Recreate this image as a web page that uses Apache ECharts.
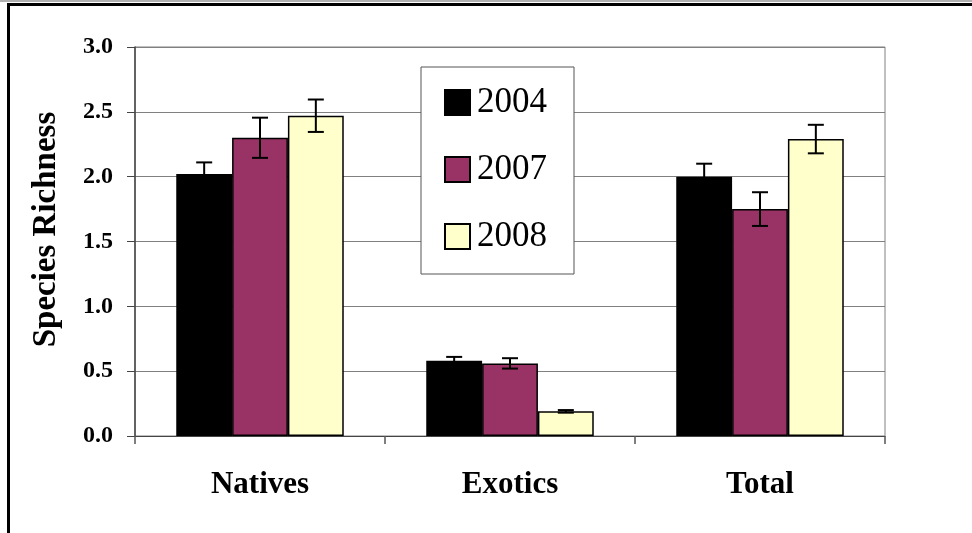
<!DOCTYPE html>
<html>
<head>
<meta charset="utf-8">
<script src="https://cdn.jsdelivr.net/npm/echarts@6/dist/echarts.min.js"></script>
<style>
html,body{margin:0;padding:0;background:#fff;}
#frame{position:absolute;left:0;top:0;width:972px;height:533px;}
#topgray{position:absolute;left:0;top:0;width:972px;height:2px;background:#b0b0b0;}
#topline{position:absolute;left:8px;top:3px;width:964px;height:3px;background:#000;}
#leftline{position:absolute;left:7px;top:3px;width:3px;height:530px;background:#000;}
#chart{position:absolute;left:0;top:0;width:972px;height:533px;}
</style>
</head>
<body>
<div id="frame"><div id="topgray"></div><div id="topline"></div><div id="leftline"></div></div>
<div id="chart"></div>
<script>
const categories = ['Natives', 'Exotics', 'Total'];
const seriesNames = ['2004', '2007', '2008'];
const values2004 = [2.02, 0.58, 2.00];
const values2007 = [2.30, 0.56, 1.75];
const values2008 = [2.47, 0.19, 2.29];
const errors2004 = [0.09, 0.03, 0.10];
const errors2007 = [0.155, 0.04, 0.13];
const errors2008 = [0.125, 0.01, 0.11];
const yTicks = [0, 0.5, 1.0, 1.5, 2.0, 2.5, 3.0];

const values = [values2004, values2007, values2008];
const errors = [errors2004, errors2007, errors2008];
const colors = ['#000000', '#993366', '#FFFFCC'];
const serif = '"Liberation Serif", "Times New Roman", serif';
const catGap = 0.33;

const chart = echarts.init(document.getElementById('chart'));

const barSeries = seriesNames.map((name, i) => ({
  name: name,
  type: 'bar',
  barGap: '0%',
  barCategoryGap: '33%',
  data: values[i],
  itemStyle: { color: colors[i], borderColor: '#000', borderWidth: 1.5 },
  z: 2
}));

const errSeries = seriesNames.map((name, i) => ({
  name: name + ' err',
  type: 'custom',
  z: 5,
  data: categories.map((c, k) => [k, values[i][k] - errors[i][k], values[i][k] + errors[i][k]]),
  renderItem: function (params, api) {
    const k = api.value(0);
    const lo = api.coord([k, api.value(1)]);
    const hi = api.coord([k, api.value(2)]);
    const cw = api.size([1, 0])[0];
    const groupW = cw * (1 - catGap);
    const bw = groupW / 3;
    const x = lo[0] - groupW / 2 + bw * (i + 0.5);
    const cap = 8;
    const style = { stroke: '#000', lineWidth: 2 };
    return {
      type: 'group',
      children: [
        { type: 'line', shape: { x1: x, y1: lo[1], x2: x, y2: hi[1] }, style: style },
        { type: 'line', shape: { x1: x - cap, y1: hi[1], x2: x + cap, y2: hi[1] }, style: style },
        { type: 'line', shape: { x1: x - cap, y1: lo[1], x2: x + cap, y2: lo[1] }, style: style }
      ]
    };
  }
}));

chart.setOption({
  animation: false,
  backgroundColor: 'transparent',
  grid: { left: 135, right: 87, top: 47, bottom: 97, show: true, borderColor: '#808080', borderWidth: 1 },
  legend: {
    data: seriesNames.map(n => ({ name: n, icon: 'rect' })),
    orient: 'vertical',
    left: 421,
    top: 67,
    padding: [18, 27, 20, 23],
    itemWidth: 25,
    itemHeight: 25,
    itemGap: 32,
    backgroundColor: '#fff',
    borderColor: '#555',
    borderWidth: 1,
    textStyle: { fontFamily: serif, fontSize: 35, color: '#000', lineHeight: 35, padding: [0, 0, 0, 2] }
  },
  xAxis: {
    type: 'category',
    data: categories,
    axisLine: { lineStyle: { color: '#444', width: 1 } },
    axisTick: { show: true, length: 8, lineStyle: { color: '#555', width: 1.5 } },
    axisLabel: { fontFamily: serif, fontSize: 31, fontWeight: 'bold', color: '#000', margin: 33 }
  },
  yAxis: {
    type: 'value',
    min: 0,
    max: 3,
    interval: 0.5,
    name: 'Species Richness',
    nameLocation: 'middle',
    nameGap: 72,
    nameTextStyle: { fontFamily: serif, fontSize: 33, fontWeight: 'bold', color: '#000', padding: [0, 0, 0, 24] },
    axisLine: { show: true, lineStyle: { color: '#444', width: 1.5 } },
    axisTick: { show: true, length: 8, lineStyle: { color: '#444' } },
    axisLabel: {
      fontFamily: serif, fontSize: 24, fontWeight: 'bold', color: '#000', margin: 22,
      formatter: v => (yTicks.includes(v) ? v.toFixed(1) : '')
    },
    splitLine: { show: true, lineStyle: { color: '#808080', width: 1 } }
  },
  series: barSeries.concat(errSeries)
});
</script>
</body>
</html>
